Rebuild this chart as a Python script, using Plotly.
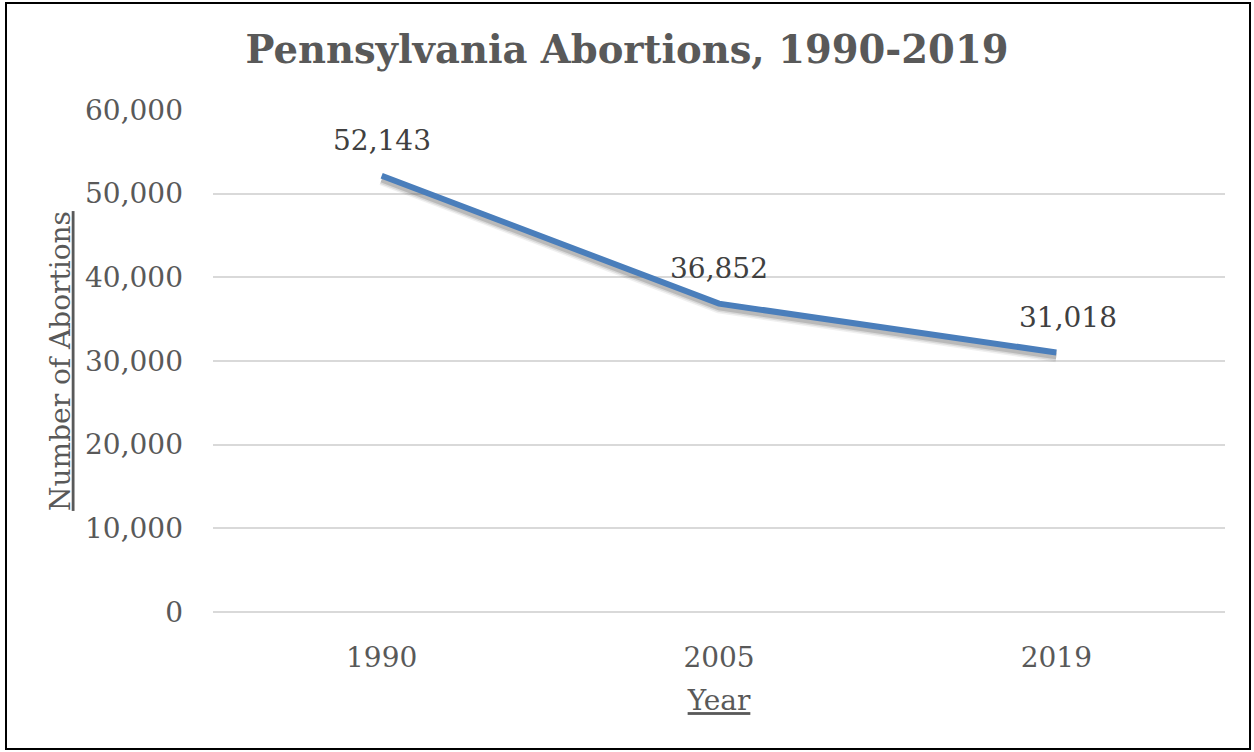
import plotly.graph_objects as go

years = ["1990", "2005", "2019"]
abortions = [52143, 36852, 31018]
label_text = ["52,143", "36,852", "31,018"]
y_ticks = [0, 10000, 20000, 30000, 40000, 50000, 60000]
y_tick_labels = ["0", "10,000", "20,000", "30,000", "40,000", "50,000", "60,000"]

W, H = 1254, 752
L, R, T, B = 213, 29, 110, 140
FONT = "DejaVu Serif"

fig = go.Figure()

# soft shadow under the line
shadow_y = [v - 450 for v in abortions]
for w, a in [(12, 0.08), (9, 0.12), (6, 0.2)]:
    fig.add_trace(go.Scatter(
        x=years, y=shadow_y, mode="lines",
        line=dict(color=f"rgba(60,60,60,{a})", width=w),
        hoverinfo="skip", showlegend=False, cliponaxis=False,
    ))

fig.add_trace(go.Scatter(
    x=years, y=abortions, mode="lines",
    line=dict(color="#4A7EBB", width=6),
    showlegend=False, cliponaxis=False,
))

label_xshift = [0, 0, 12]
for i, (v, t, xs) in enumerate(zip(abortions, label_text, label_xshift)):
    fig.add_annotation(x=i, y=v, xref="x", yref="y", text=t, showarrow=False,
                       xshift=xs, yshift=35,
                       font=dict(family=FONT, size=28, color="#404040"))

pw = W - L - R
ph = H - T - B
fig.add_shape(type="rect", xref="paper", yref="paper",
              x0=(6 - L) / pw, x1=(1250 - L) / pw,
              y0=(H - B - 749) / ph, y1=(H - B - 3) / ph,
              line=dict(color="black", width=2), fillcolor="rgba(0,0,0,0)", layer="below")

fig.update_layout(
    width=W, height=H,
    margin=dict(l=L, r=R, t=T, b=B),
    paper_bgcolor="white", plot_bgcolor="white",
    title=dict(text="<b>Pennsylvania Abortions, 1990-2019</b>", x=0.5, xanchor="center",
               y=1 - 50 / H, yanchor="middle",
               font=dict(family=FONT, size=38.5, color="#595959")),
    xaxis=dict(type="category", range=[-0.5, 2.5], showgrid=False, zeroline=False,
               showline=False, ticks="", ticklabelstandoff=26,
               tickfont=dict(family=FONT, size=28, color="#595959"),
               title=dict(text="<u>Year</u>", standoff=17,
                          font=dict(family=FONT, size=28, color="#595959"))),
    yaxis=dict(range=[0, 60000], tickvals=y_ticks, ticktext=y_tick_labels,
               showgrid=True, gridcolor="#D9D9D9", gridwidth=2,
               zeroline=True, zerolinecolor="#D9D9D9", zerolinewidth=2,
               showline=False, ticks="", ticklabelstandoff=29,
               tickfont=dict(family=FONT, size=28, color="#595959"),
               title=dict(text="<u>Number of Abortions</u>", standoff=6,
                          font=dict(family=FONT, size=28, color="#595959"))),
)

fig.write_html("out.html")
